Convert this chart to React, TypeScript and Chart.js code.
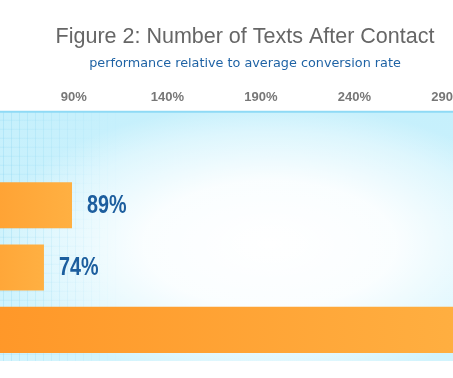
import React, { useEffect, useRef } from "react";
import { Chart, registerables } from "chart.js";

Chart.register(...registerables);

const TITLE = "Figure 2: Number of Texts After Contact";
const SUBTITLE = "performance relative to average conversion rate";
const categories = ["1", "2", "3", "4+"];
const conversion: (number | null)[] = [null, 89, 74, 310];
const tickValues = [90, 140, 190, 240, 290];
const axisMin = 50.5;
const axisMax = 312.5;

const backgroundPlugin = {
  id: "panelBackground",
  beforeDraw(chart: any) {
    const { ctx, chartArea: a } = chart;
    if (!a) return;
    const w = a.right - a.left;
    const h = a.bottom - a.top;
    ctx.save();
    ctx.beginPath();
    ctx.rect(a.left, a.top, w, h);
    ctx.clip();
    const g = ctx.createLinearGradient(0, a.top, 0, a.bottom);
    g.addColorStop(0, "#c6f0fc");
    g.addColorStop(1, "#d2f4fd");
    ctx.fillStyle = g;
    ctx.fillRect(a.left, a.top, w, h);

    ctx.save();
    ctx.translate(a.left + 270, a.top + 132);
    ctx.scale(2.0, 1);
    const r = ctx.createRadialGradient(0, 0, 0, 0, 0, 140);
    r.addColorStop(0, "rgba(255,255,255,1)");
    r.addColorStop(0.45, "rgba(255,255,255,0.9)");
    r.addColorStop(0.8, "rgba(255,255,255,0.4)");
    r.addColorStop(1, "rgba(255,255,255,0)");
    ctx.fillStyle = r;
    ctx.fillRect(-400, -300, 800, 600);
    ctx.restore();

    // fine grid pattern fading to the right
    for (let x = a.left + 3; x < a.left + 120; x += 8) {
      const t = (x - a.left) / 120;
      ctx.fillStyle = `rgba(120,205,238,${0.26 * (1 - t)})`;
      ctx.fillRect(x, a.top, 1, h);
    }
    for (let y = a.top + 8; y < a.bottom; y += 9) {
      const lg = ctx.createLinearGradient(a.left, 0, a.left + 110, 0);
      lg.addColorStop(0, "rgba(120,205,238,0.2)");
      lg.addColorStop(1, "rgba(120,205,238,0)");
      ctx.fillStyle = lg;
      ctx.fillRect(a.left, y, 110, 1);
    }
    ctx.restore();

    ctx.save();
    ctx.fillStyle = "#8fdaf5";
    ctx.fillRect(a.left, a.top - 1, w, 2);
    ctx.restore();
  },
};

const valueLabelPlugin = {
  id: "valueLabels",
  afterDatasetsDraw(chart: any) {
    const { ctx } = chart;
    const meta = chart.getDatasetMeta(0);
    ctx.save();
    ctx.font = 'bold 25px "Liberation Sans", Arial, sans-serif';
    ctx.fillStyle = "#1c5e9e";
    ctx.textAlign = "left";
    ctx.textBaseline = "middle";
    meta.data.forEach((bar: any, i: number) => {
      const v = conversion[i];
      if (v == null) return;
      ctx.save();
      ctx.translate(bar.x + 15, bar.y + 1);
      ctx.scale(0.79, 1);
      ctx.fillText(`${v}%`, 0, 0);
      ctx.restore();
    });
    ctx.restore();
  },
};

export default function App() {
  const ref = useRef<HTMLCanvasElement | null>(null);
  useEffect(() => {
    if (!ref.current) return;
    const chart = new Chart(ref.current, {
      type: "bar",
      data: {
        labels: categories,
        datasets: [
          {
            data: conversion as any,
            borderWidth: 0,
            barPercentage: 0.74,
            categoryPercentage: 1,
            backgroundColor: (c: any) => {
              const ch = c.chart;
              const xs = ch.scales && ch.scales.x;
              const v = c.raw;
              if (!xs || v == null || !ch.chartArea) return "#ffa535";
              const x0 = xs.getPixelForValue(0);
              const x1 = xs.getPixelForValue(v);
              const g = ch.ctx.createLinearGradient(x0, 0, x1, 0);
              g.addColorStop(0, "#ff9324");
              g.addColorStop(1, "#ffb042");
              return g;
            },
          },
        ],
      },
      options: {
        indexAxis: "y",
        animation: false,
        responsive: false,
        maintainAspectRatio: false,
        devicePixelRatio: 1,
        layout: { padding: { top: 0, bottom: 17, left: 0, right: 0 } },
        plugins: {
          legend: { display: false },
          tooltip: { enabled: false },
          title: {
            display: true,
            text: TITLE,
            color: "#666666",
            font: { family: "Liberation Sans", size: 21.5, weight: "normal" },
            padding: { top: 24, bottom: 6 },
          },
          subtitle: {
            display: true,
            text: SUBTITLE,
            color: "#1f63a5",
            font: { family: "DejaVu Sans", size: 12.8, weight: "normal" },
            padding: { top: 0, bottom: 11 },
          },
        },
        scales: {
          x: {
            position: "top",
            min: axisMin,
            max: axisMax,
            grid: { display: false, drawTicks: false },
            border: { display: false },
            afterBuildTicks: (s: any) => {
              s.ticks = tickValues.map((v) => ({ value: v }));
            },
            ticks: {
              autoSkip: false,
              maxRotation: 0,
              padding: 7,
              color: "#777777",
              font: { family: "Liberation Sans", size: 13, weight: "bold" },
              callback: (v: any) => `${v}%`,
            },
          },
          y: {
            display: false,
            grid: { display: false },
          },
        },
      },
      plugins: [backgroundPlugin, valueLabelPlugin],
    } as any);
    return () => chart.destroy();
  }, []);

  return (
    <div
      style={{
        position: "fixed",
        left: 0,
        top: 0,
        width: 453,
        height: 378,
        overflow: "hidden",
        background: "#ffffff",
      }}
    >
      <canvas ref={ref} width={490} height={378} style={{ display: "block", width: 490, height: 378 }} />
    </div>
  );
}
